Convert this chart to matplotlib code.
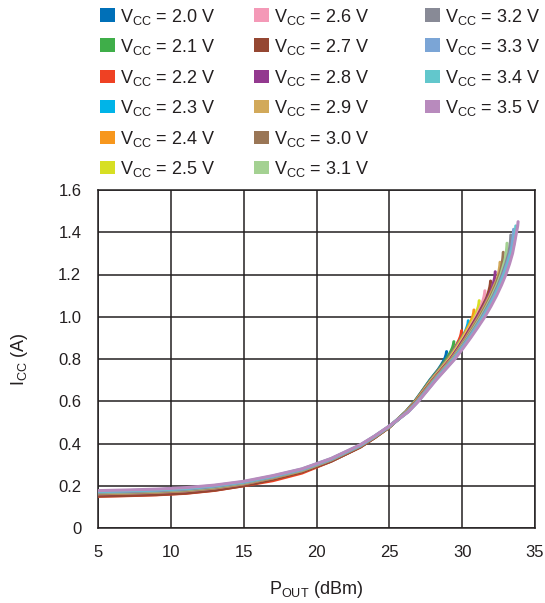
import matplotlib
matplotlib.use('Agg')
import matplotlib.pyplot as plt
from matplotlib.patches import Rectangle

plt.rcParams['font.family'] = ['Liberation Sans', 'DejaVu Sans']
plt.rcParams['mathtext.fontset'] = 'custom'
plt.rcParams['mathtext.rm'] = 'Liberation Sans'
plt.rcParams['mathtext.it'] = 'Liberation Sans'

# напряжения питания и цвета
vcc = ['2.0', '2.1', '2.2', '2.3', '2.4', '2.5', '2.6', '2.7',
       '2.8', '2.9', '3.0', '3.1', '3.2', '3.3', '3.4', '3.5']
colors = ['#0070b8', '#3fae49', '#ef4123', '#00b4e8', '#f7971d', '#d7df23',
          '#f499b7', '#954732', '#93398f', '#d2a95a', '#9a7656', '#a4d192',
          '#888a96', '#7ba5d6', '#62c7cc', '#b88abd']

# начальный участок, общие точки Pout (dBm)
p_low = [5, 7, 9, 11, 13, 15, 17, 19, 21, 23, 24, 25]
icc_low = [
    [0.153, 0.156, 0.160, 0.167, 0.1805, 0.202, 0.231, 0.266, 0.317, 0.384, 0.429, 0.478],
    [0.154, 0.157, 0.161, 0.168, 0.181, 0.203, 0.232, 0.267, 0.318, 0.384, 0.429, 0.478],
    [0.150, 0.153, 0.157, 0.164, 0.178, 0.200, 0.224, 0.260, 0.316, 0.383, 0.428, 0.477],
    [0.157, 0.160, 0.164, 0.171, 0.184, 0.205, 0.234, 0.268, 0.319, 0.386, 0.430, 0.479],
    [0.155, 0.158, 0.162, 0.169, 0.182, 0.204, 0.232, 0.267, 0.318, 0.385, 0.430, 0.478],
    [0.156, 0.159, 0.163, 0.170, 0.183, 0.204, 0.233, 0.268, 0.319, 0.385, 0.430, 0.479],
    [0.159, 0.162, 0.166, 0.173, 0.186, 0.207, 0.235, 0.270, 0.320, 0.386, 0.431, 0.479],
    [0.151, 0.154, 0.158, 0.165, 0.179, 0.200, 0.230, 0.265, 0.316, 0.383, 0.428, 0.478],
    [0.161, 0.164, 0.168, 0.175, 0.188, 0.208, 0.237, 0.271, 0.321, 0.387, 0.431, 0.480],
    [0.162, 0.165, 0.169, 0.176, 0.189, 0.209, 0.237, 0.271, 0.322, 0.388, 0.432, 0.480],
    [0.164, 0.167, 0.171, 0.178, 0.191, 0.211, 0.239, 0.273, 0.323, 0.388, 0.432, 0.480],
    [0.167, 0.170, 0.174, 0.181, 0.194, 0.213, 0.241, 0.274, 0.324, 0.390, 0.433, 0.481],
    [0.169, 0.172, 0.176, 0.183, 0.196, 0.215, 0.242, 0.276, 0.325, 0.390, 0.434, 0.481],
    [0.172, 0.175, 0.179, 0.186, 0.199, 0.217, 0.244, 0.277, 0.327, 0.392, 0.435, 0.482],
    [0.174, 0.177, 0.181, 0.188, 0.201, 0.219, 0.246, 0.279, 0.328, 0.392, 0.435, 0.482],
    [0.177, 0.180, 0.184, 0.191, 0.203, 0.221, 0.248, 0.280, 0.329, 0.394, 0.436, 0.483],
]

# верхний участок с загибом у каждой кривой
p_tail = [
    [26.12, 26.745, 27.27, 27.78, 28.354, 28.546, 28.719, 28.834, 28.901, 28.93],
    [26.13, 26.76, 27.29, 27.81, 28.39, 28.89, 29.07, 29.23, 29.34, 29.40, 29.43],
    [26.14, 26.78, 27.31, 27.84, 28.42, 29.01, 29.47, 29.63, 29.78, 29.88, 29.935, 29.96],
    [26.16, 26.80, 27.34, 27.86, 28.45, 29.04, 29.52, 29.95, 30.11, 30.25, 30.34, 30.40, 30.42],
    [26.17, 26.81, 27.36, 27.89, 28.49, 29.08, 29.57, 30.01, 30.38, 30.53, 30.65, 30.74, 30.79, 30.81],
    [26.18, 26.83, 27.38, 27.92, 28.52, 29.12, 29.61, 30.06, 30.47, 30.79, 30.92, 31.03, 31.11, 31.15, 31.17],
    [26.19, 26.85, 27.40, 27.95, 28.55, 29.16, 29.65, 30.11, 30.53, 30.95, 31.22, 31.33, 31.435, 31.50, 31.54, 31.56],
    [26.20, 26.86, 27.42, 27.98, 28.59, 29.20, 29.70, 30.16, 30.59, 31.02, 31.40, 31.65, 31.75, 31.84, 31.90, 31.935, 31.95],
    [26.22, 26.88, 27.45, 28.00, 28.62, 29.23, 29.74, 30.22, 30.65, 31.08, 31.47, 31.835, 32.01, 32.10, 32.175, 32.23, 32.26, 32.27],
    [26.23, 26.90, 27.47, 28.03, 28.65, 29.27, 29.79, 30.27, 30.71, 31.15, 31.54, 31.91, 32.23, 32.38, 32.46, 32.52, 32.56, 32.59, 32.60],
    [26.24, 26.92, 27.49, 28.06, 28.69, 29.31, 29.83, 30.32, 30.78, 31.22, 31.62, 31.99, 32.31, 32.575, 32.65, 32.71, 32.76, 32.79, 32.81, 32.82],
    [26.25, 26.93, 27.51, 28.09, 28.72, 29.35, 29.87, 30.37, 30.84, 31.29, 31.69, 32.06, 32.39, 32.66, 32.92, 32.98, 33.02, 33.05, 33.07, 33.08],
    [26.26, 26.95, 27.53, 28.12, 28.75, 29.39, 29.92, 30.42, 30.90, 31.36, 31.76, 32.14, 32.47, 32.745, 32.99, 33.20, 33.25, 33.29, 33.32, 33.33, 33.34],
    [26.28, 26.97, 27.56, 28.14, 28.78, 29.42, 29.96, 30.48, 30.96, 31.42, 31.83, 32.21, 32.54, 32.83, 33.07, 33.29, 33.40, 33.44, 33.48, 33.51, 33.52, 33.53],
    [26.29, 26.98, 27.58, 28.17, 28.82, 29.46, 30.01, 30.53, 31.02, 31.49, 31.91, 32.29, 32.62, 32.92, 33.16, 33.375, 33.56, 33.60, 33.64, 33.66, 33.67, 33.68],
    [26.30, 27.00, 27.60, 28.20, 28.85, 29.50, 30.05, 30.58, 31.08, 31.56, 31.98, 32.36, 32.70, 33.00, 33.25, 33.46, 33.60, 33.73, 33.81, 33.84],
]
icc_tail = [
    [0.55, 0.60, 0.65, 0.70, 0.75, 0.77, 0.79, 0.807, 0.822, 0.835],
    [0.55, 0.60, 0.65, 0.70, 0.75, 0.797, 0.817, 0.837, 0.854, 0.869, 0.882],
    [0.55, 0.60, 0.65, 0.70, 0.75, 0.80, 0.849, 0.869, 0.889, 0.906, 0.921, 0.934],
    [0.55, 0.60, 0.65, 0.70, 0.75, 0.80, 0.85, 0.896, 0.916, 0.936, 0.953, 0.968, 0.981],
    [0.55, 0.60, 0.65, 0.70, 0.75, 0.80, 0.85, 0.90, 0.947, 0.967, 0.987, 1.004, 1.019, 1.032],
    [0.55, 0.60, 0.65, 0.70, 0.75, 0.80, 0.85, 0.90, 0.95, 0.991, 1.011, 1.031, 1.048, 1.063, 1.076],
    [0.55, 0.60, 0.65, 0.70, 0.75, 0.80, 0.85, 0.90, 0.95, 1.00, 1.038, 1.058, 1.078, 1.095, 1.11, 1.123],
    [0.55, 0.60, 0.65, 0.70, 0.75, 0.80, 0.85, 0.90, 0.95, 1.00, 1.05, 1.084, 1.104, 1.124, 1.141, 1.156, 1.169],
    [0.55, 0.60, 0.65, 0.70, 0.75, 0.80, 0.85, 0.90, 0.95, 1.00, 1.05, 1.10, 1.128, 1.148, 1.168, 1.185, 1.20, 1.213],
    [0.55, 0.60, 0.65, 0.70, 0.75, 0.80, 0.85, 0.90, 0.95, 1.00, 1.05, 1.10, 1.15, 1.173, 1.193, 1.213, 1.23, 1.245, 1.258],
    [0.55, 0.60, 0.65, 0.70, 0.75, 0.80, 0.85, 0.90, 0.95, 1.00, 1.05, 1.10, 1.15, 1.20, 1.22, 1.24, 1.26, 1.277, 1.292, 1.305],
    [0.55, 0.60, 0.65, 0.70, 0.75, 0.80, 0.85, 0.90, 0.95, 1.00, 1.05, 1.10, 1.15, 1.20, 1.263, 1.283, 1.303, 1.32, 1.335, 1.348],
    [0.55, 0.60, 0.65, 0.70, 0.75, 0.80, 0.85, 0.90, 0.95, 1.00, 1.05, 1.10, 1.15, 1.20, 1.25, 1.302, 1.322, 1.342, 1.359, 1.374, 1.387],
    [0.55, 0.60, 0.65, 0.70, 0.75, 0.80, 0.85, 0.90, 0.95, 1.00, 1.05, 1.10, 1.15, 1.20, 1.25, 1.30, 1.329, 1.349, 1.369, 1.386, 1.401, 1.414],
    [0.55, 0.60, 0.65, 0.70, 0.75, 0.80, 0.85, 0.90, 0.95, 1.00, 1.05, 1.10, 1.15, 1.20, 1.25, 1.30, 1.345, 1.365, 1.385, 1.402, 1.417, 1.43],
    [0.55, 0.60, 0.65, 0.70, 0.75, 0.80, 0.85, 0.90, 0.95, 1.00, 1.05, 1.10, 1.15, 1.20, 1.25, 1.30, 1.35, 1.40, 1.43, 1.45],
]

x_ticks = [5, 10, 15, 20, 25, 30, 35]
y_ticks = [0, 0.2, 0.4, 0.6, 0.8, 1.0, 1.2, 1.4, 1.6]
y_labels = ['0', '0.2', '0.4', '0.6', '0.8', '1.0', '1.2', '1.4', '1.6']

W, H = 545, 603
fig = plt.figure(figsize=(W / 100, H / 100), dpi=100)
ax = fig.add_axes([98 / W, 1 - 528 / H, 437 / W, 338 / H])

dark = '#231f20'
for k in range(len(vcc)):
    ax.plot(p_low + p_tail[k], icc_low[k] + icc_tail[k], color=colors[k],
            lw=2.2, solid_capstyle='round', solid_joinstyle='round', zorder=3)

ax.set_xlim(5, 35)
ax.set_ylim(0, 1.6)
ax.set_xticks(x_ticks)
ax.set_yticks(y_ticks)
ax.set_yticklabels(y_labels)
ax.tick_params(length=0, labelsize=12, colors=dark, pad=12)
ax.grid(color=dark, lw=1.1)
for s in ax.spines.values():
    s.set_color(dark)
    s.set_linewidth(1.1)

ax.set_xlabel(r'P$_{\rm OUT}$ (dBm)', fontsize=13, color=dark, labelpad=14)
ax.set_ylabel(r'I$_{\rm CC}$ (A)', fontsize=13, color=dark, labelpad=20)

# легенда вручную: 3 колонки (6, 6, 4)
col_x = [100, 254, 425]
row_y = [15, 45, 76, 106, 137, 167]
for k in range(len(vcc)):
    c = k // 6
    r = k % 6
    x0 = col_x[c]
    yc = row_y[r]
    fig.add_artist(Rectangle((x0 / W, 1 - (yc + 6.5) / H), 15 / W, 13 / H,
                             transform=fig.transFigure, color=colors[k], lw=0))
    fig.text((x0 + 20) / W, 1 - (yc + 7) / H, r'V$_{\rm CC}$ = ' + vcc[k] + ' V',
             fontsize=13, color=dark, va='baseline', ha='left')

fig.savefig('out.png', dpi=100)
